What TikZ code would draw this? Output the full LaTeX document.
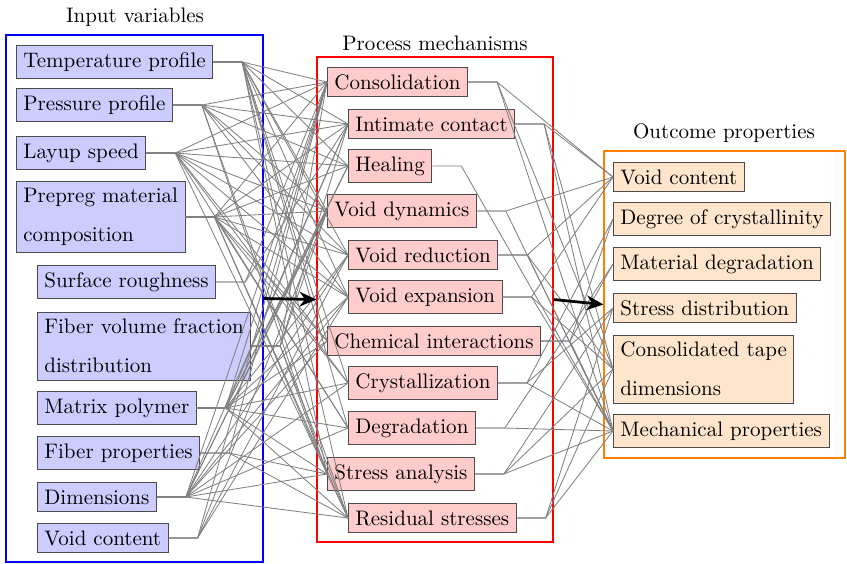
\documentclass[tikz,border=0pt]{standalone}
\usetikzlibrary{fit,arrows.meta}
\begin{document}
\begin{tikzpicture}[x=0.476pt,y=-0.476pt,
  invar/.style={draw=black!70, fill=blue!20, anchor=west, align=left},
  procvar/.style={draw=black!70, fill=red!20, anchor=west},
  outvar/.style={draw=black!70, fill=orange!20, anchor=west, align=left},
  container/.style={inner sep=0pt, line width=0.6pt},
  edge/.style={gray, line width=0.4pt},
  bigarrow/.style={-{Stealth[length=8pt,width=7pt]}, line width=1.3pt}]
\useasboundingbox (0,0) rectangle (847,563);

% containers
\coordinate (b1a) at (6,35);   \coordinate (b1b) at (263,562);
\coordinate (b2a) at (317,57); \coordinate (b2b) at (553,542);
\coordinate (b3a) at (604,151);\coordinate (b3b) at (845,458);
\node[container, draw=blue, fit=(b1a)(b1b)] (inbox) {};
\node[container, draw=red, fit=(b2a)(b2b)] (procbox) {};
\node[container, draw=orange, fit=(b3a)(b3b)] (outbox) {};

% titles
\node (tin) at (135,17) {Input variables};
\node (tproc) at (435,43) {Process mechanisms};
\node (tout) at (724,133) {Outcome properties};

% input nodes
\node[invar] (tp) at (16,62) {Temperature profile};
\node[invar] (pp) at (16,105) {Pressure profile};
\node[invar] (ls) at (16,153) {Layup speed};
\node[invar] (pm) at (16,217) {Prepreg material\\[6.5pt]composition};
\node[invar] (sr) at (37,282) {Surface roughness};
\node[invar] (fv) at (37,346) {Fiber volume fraction\\[6.5pt]distribution};
\node[invar] (mp) at (37,408) {Matrix polymer};
\node[invar] (fp) at (37,453) {Fiber properties};
\node[invar] (dm) at (37,497) {Dimensions};
\node[invar] (vc) at (37,538) {Void content};

% process nodes
\node[procvar] (con) at (327,82) {Consolidation};
\node[procvar] (ic) at (348,124) {Intimate contact};
\node[procvar] (hea) at (348,166) {Healing};
\node[procvar] (vd) at (327,211) {Void dynamics};
\node[procvar] (vr) at (348,255) {Void reduction};
\node[procvar] (ve) at (348,297) {Void expansion};
\node[procvar] (ci) at (327,341) {Chemical interactions};
\node[procvar] (cry) at (348,383) {Crystallization};
\node[procvar] (deg) at (348,428) {Degradation};
\node[procvar] (sa) at (327,474) {Stress analysis};
\node[procvar] (rs) at (348,518) {Residual stresses};

% outcome nodes
\node[outvar] (ovc) at (613,177) {Void content};
\node[outvar] (odc) at (613,219) {Degree of crystallinity};
\node[outvar] (omd) at (613,264) {Material degradation};
\node[outvar] (osd) at (613,308) {Stress distribution};
\node[outvar] (oct) at (613,369) {Consolidated tape\\[6.5pt]dimensions};
\node[outvar] (omp) at (613,431) {Mechanical properties};

% input -> process edges
\foreach \t in {con,ic,hea,vd,vr,ve,ci,cry,deg,sa,rs}
  \draw[edge] (tp.east) -- ++(29,0) -- (\t.west);
\foreach \t in {con,ic,hea,vd,vr,ve,sa,rs}
  \draw[edge] (pp.east) -- ++(29,0) -- (\t.west);
\foreach \t in {con,ic,hea,vd,vr,ve,ci,cry,deg,rs}
  \draw[edge] (ls.east) -- ++(29,0) -- (\t.west);
\foreach \t in {con,ic,hea,vd,vr,ve,ci,cry,deg,sa,rs}
  \draw[edge] (pm.east) -- ++(29,0) -- (\t.west);
\foreach \t in {con,ic}
  \draw[edge] (sr.east) -- ++(29,0) -- (\t.west);
\foreach \t in {con,ic,vd,sa,rs}
  \draw[edge] (fv.east) -- ++(29,0) -- (\t.west);
\foreach \t in {con,ic,hea,vd,vr,ve,ci,cry,deg,sa,rs}
  \draw[edge] (mp.east) -- ++(29,0) -- (\t.west);
\foreach \t in {con,sa,rs}
  \draw[edge] (fp.east) -- ++(29,0) -- (\t.west);
\foreach \t in {con,ic,hea,vd,vr,ve,ci,cry,deg,sa,rs}
  \draw[edge] (dm.east) -- ++(29,0) -- (\t.west);
\foreach \t in {con,vd,vr,ve}
  \draw[edge] (vc.east) -- ++(29,0) -- (\t.west);

% process -> outcome edges
\foreach \t in {ovc,oct,omp}
  \draw[edge] (con.east) -- ++(29,0) -- (\t.west);
\foreach \t in {ovc,oct,omp}
  \draw[edge] (ic.east) -- ++(29,0) -- (\t.west);
\foreach \t in {omp}
  \draw[edge] (hea.east) -- ++(29,0) -- (\t.west);
\foreach \t in {ovc,omp}
  \draw[edge] (vd.east) -- ++(29,0) -- (\t.west);
\foreach \t in {ovc,oct,omp}
  \draw[edge] (vr.east) -- ++(29,0) -- (\t.west);
\foreach \t in {ovc,oct,omp}
  \draw[edge] (ve.east) -- ++(29,0) -- (\t.west);
\foreach \t in {odc,omd,omp}
  \draw[edge] (ci.east) -- ++(29,0) -- (\t.west);
\foreach \t in {odc,osd,omp}
  \draw[edge] (cry.east) -- ++(29,0) -- (\t.west);
\foreach \t in {omd,omp}
  \draw[edge] (deg.east) -- ++(29,0) -- (\t.west);
\foreach \t in {osd,oct,omp}
  \draw[edge] (sa.east) -- ++(29,0) -- (\t.west);
\foreach \t in {osd,oct,omp}
  \draw[edge] (rs.east) -- ++(29,0) -- (\t.west);

% big arrows
\draw[bigarrow] (inbox.east) -- (procbox.west);
\draw[bigarrow] (procbox.east) -- (outbox.west);
\end{tikzpicture}
\end{document}
